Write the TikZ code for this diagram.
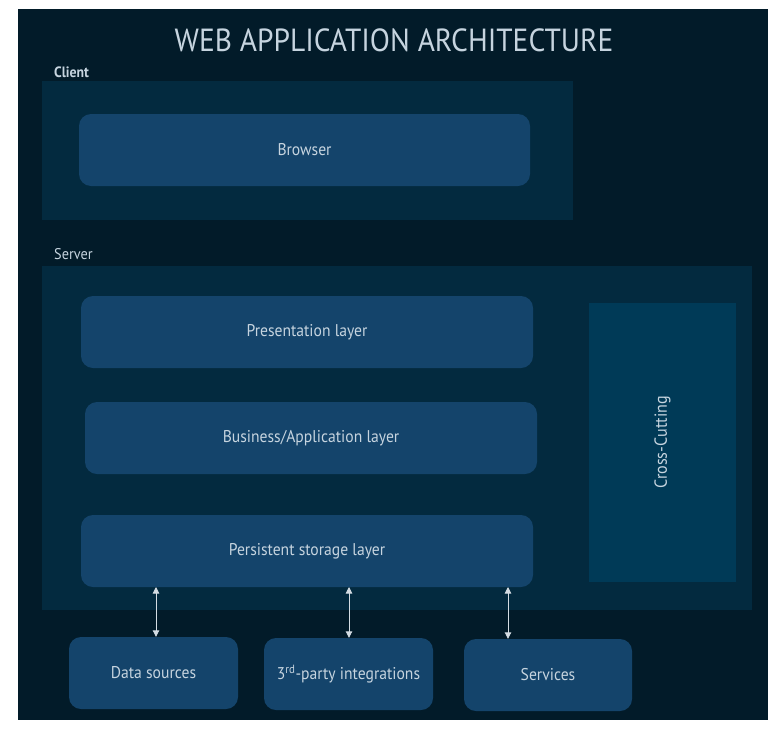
\documentclass[tikz,border=0pt]{standalone}
\usepackage{fontspec}
\setmainfont[FakeStretch=0.92]{PT Sans}
\usetikzlibrary{arrows.meta}
\definecolor{bgdark}{HTML}{021B29}
\definecolor{panel}{HTML}{032A3F}
\definecolor{boxblue}{HTML}{14446B}
\definecolor{crossblue}{HTML}{003A57}
\definecolor{txt}{HTML}{C6D4DF}
\definecolor{arrowc}{HTML}{D4DCE3}
\tikzset{
  panelbox/.style={fill=panel, draw=none, rectangle, inner sep=0pt},
  layerbox/.style={fill=boxblue, draw=none, rounded corners=12pt, inner sep=0pt,
    text=txt, font=\fontsize{17}{20}\selectfont},
  crossbox/.style={fill=crossblue, draw=none, inner sep=0pt},
  grouplabel/.style={text=txt, anchor=base west, inner sep=0pt, font=\fontsize{15.5}{18}\selectfont},
  conn/.style={draw=arrowc, line width=0.9pt, {Triangle[width=6.5pt,length=6.5pt]}-{Triangle[width=6.5pt,length=6.5pt]}, arrowc, fill=arrowc}
}
\begin{document}
\begin{tikzpicture}[x=1pt,y=-1pt]
\useasboundingbox (0,0) rectangle (781,731);
\fill[white] (0,0) rectangle (781,731);
\fill[bgdark] (18,9) rectangle (768,720);
% title
\node[text=txt, font=\fontsize{32}{36}\selectfont] (title) at (394,40) {WEB APPLICATION ARCHITECTURE};
% client
\node[grouplabel, font=\bfseries\fontsize{15}{18}\selectfont] (clientlbl) at (54,77) {Client};
\node[panelbox, minimum width=531pt, minimum height=139pt] (client) at (307.5,150.5) {};
\node[layerbox, minimum width=451pt, minimum height=72pt] (browser) at (304.5,150) {Browser};
% server
\node[grouplabel] (serverlbl) at (54,259) {Server};
\node[panelbox, minimum width=710pt, minimum height=344pt] (server) at (397,438) {};
\node[layerbox, minimum width=452pt, minimum height=72pt] (pres) at (307,332) {Presentation layer};
\node[layerbox, minimum width=452pt, minimum height=72pt] (bus) at (311,438) {Business/Application layer};
\node[layerbox, minimum width=452pt, minimum height=72pt] (persist) at (307,551) {Persistent storage layer};
\node[crossbox, minimum width=147pt, minimum height=279pt] (cross) at (662.5,442.5) {};
\node[text=txt, rotate=90, font=\fontsize{17.5}{20}\selectfont] (crosslbl) at (cross.center) {Cross-Cutting};
% external
\node[layerbox, minimum width=169pt, minimum height=72pt] (ds) at (153.5,673) {Data sources};
\node[layerbox, minimum width=169pt, minimum height=72pt] (third) at (348.5,674) {3\textsuperscript{rd}-party integrations};
\node[layerbox, minimum width=168pt, minimum height=72pt] (svc) at (548,675) {\raisebox{-4pt}{Services}};
% connectors
\coordinate (a1) at (156,587);
\coordinate (a2) at (349,587);
\coordinate (a3) at (508,587);
\draw[conn] (a1) -- (a1 |- ds.north);
\draw[conn] (a2) -- (a2 |- third.north);
\draw[conn] (a3) -- (a3 |- svc.north);
\end{tikzpicture}
\end{document}
